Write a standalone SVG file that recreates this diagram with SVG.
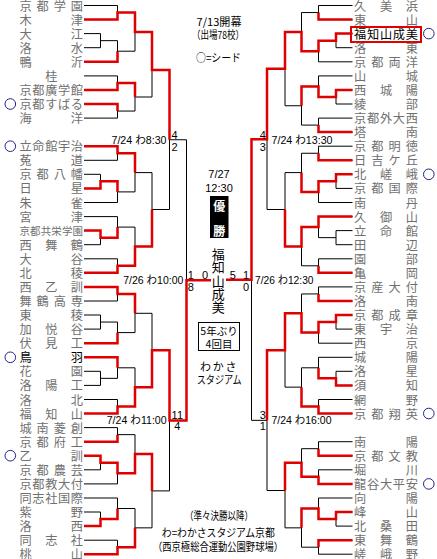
<svg xmlns="http://www.w3.org/2000/svg" width="437" height="559" viewBox="0 0 437 559">
<style>
.n{font-family:"Noto Sans CJK JP","Noto Sans CJK SC",sans-serif;font-size:12.2px;fill:#707070;dominant-baseline:central}
.nb{fill:#000}
.t{font-family:"Liberation Sans","Noto Sans CJK JP",sans-serif;font-size:11px;fill:#000;dominant-baseline:central}
.j{font-family:"Noto Sans CJK JP",sans-serif;font-size:11px;fill:#000;dominant-baseline:central}
.c{text-anchor:middle}
.e{text-anchor:end}
.sd{fill:none;stroke:#22228a;stroke-width:1}
.k{fill:none;stroke:#000;stroke-width:1}
.r{fill:none;stroke:#e00000;stroke-width:2.5}
</style>
<rect width="437" height="559" fill="#fff"/>
<g id="connectors">
<path class="k" d="M84 5.5H117.5V19.6H84 M84 33.6H100.5V47.7H84 M100.5 40.65H117.5V61.8H84 M84 75.9H117.5V89.9H84 M84 104H117.5V118.1H84 M84 146.2H117.5V160.3H84 M84 174.3H100.5V188.4H84 M100.5 181.35H117.5V202.5H84 M84 216.6H117.5V237.65H100.5 M84 230.6H100.5V244.7H84 M84 258.8H117.5V272.8H84 M84 286.9H117.5V301H84 M84 315H100.5V329.1H84 M100.5 322.05H117.5V343.2H84 M84 357.3H117.5V378.35H100.5 M84 371.3H100.5V385.4H84 M84 399.5H117.5V413.5H84 M84 427.6H117.5V441.7H84 M84 455.7H100.5V469.8H84 M100.5 462.75H117.5V483.9H84 M84 498H117.5V519.05H100.5 M84 512H100.5V526.1H84 M84 540.2H117.5V554.2H84"/>
<path class="k" d="M117.5 12.55H135V51.2H117.5 M117.5 82.9H135V111.05H117.5 M117.5 153.25H135V191.9H117.5 M117.5 227.1H135V265.8H117.5 M117.5 293.95H135V332.6H117.5 M117.5 367.8H135V406.5H117.5 M117.5 434.65H135V473.3H117.5 M117.5 508.5H135V547.2H117.5 M135 31.9H152V97H135 M152 70H169.5 M135 172.6H152V246.45H135 M152 209.5H169.5 M135 313.3H152V387.15H135 M152 350.2H169.5 M135 454H152V527.85H135 M152 490.9H169.5 M169.5 70V209.5 M169.5 139.75H186.5 M169.5 350.2V490.9 M169.5 420.55H186.5 M186.5 139.75V420.55 M186.5 280.15H211"/>
<path class="k" d="M352.5 5.5H318.5V19.6H352.5 M352.5 33.6H336V47.7H352.5 M336 40.65H318.5V61.8H352.5 M352.5 75.9H318.5V96.95H336 M352.5 89.9H336V104H352.5 M352.5 118.1H318.5V132.1H352.5 M352.5 146.2H318.5V160.3H352.5 M352.5 174.3H336V188.4H352.5 M336 181.35H318.5V202.5H352.5 M352.5 216.6H318.5V237.65H336 M352.5 230.6H336V244.7H352.5 M352.5 258.8H318.5V272.8H352.5 M352.5 286.9H318.5V301H352.5 M352.5 315H336V329.1H352.5 M336 322.05H318.5V343.2H352.5 M352.5 357.3H318.5V378.35H336 M352.5 371.3H336V385.4H352.5 M352.5 399.5H318.5V413.5H352.5 M352.5 441.7H318.5V455.7H352.5 M352.5 469.8H318.5V483.9H352.5 M352.5 498H318.5V519.05H336 M352.5 512H336V526.1H352.5 M352.5 540.2H318.5V554.2H352.5"/>
<path class="k" d="M318.5 12.55H301.5V51.2H318.5 M318.5 86.4H301.5V125.1H318.5 M318.5 153.25H301.5V191.9H318.5 M318.5 227.1H301.5V265.8H318.5 M318.5 293.95H301.5V332.6H318.5 M318.5 367.8H301.5V406.5H318.5 M318.5 448.7H301.5V476.85H318.5 M318.5 508.5H301.5V547.2H318.5 M301.5 31.9H285V105.75H301.5 M285 68.8H267 M301.5 172.6H285V246.45H301.5 M285 209.5H267 M301.5 313.3H285V387.15H301.5 M285 350.2H267 M301.5 462.8H285V527.85H301.5 M285 490.5H267 M267 68.8V209.5 M267 139.15H251.5 M267 350.2V490.5 M267 420.35H251.5 M251.5 139.15V420.35 M251.5 279.75H226"/>
<path class="r" d="M84 19.6H117.5V12.55H135V31.9H152V70H169.5V139.75"/>
<path class="r" d="M84 61.8H117.5V51.2"/>
<path class="r" d="M84 89.9H117.5V82.9H135V97"/>
<path class="r" d="M84 104H117.5V111.05"/>
<path class="r" d="M84 146.2H117.5V153.25H135V172.6"/>
<path class="r" d="M84 188.4H100.5V181.35H117.5V191.9"/>
<path class="r" d="M84 230.6H100.5V237.65H117.5V227.1"/>
<path class="r" d="M84 272.8H117.5V265.8H135V246.45H152V209.5"/>
<path class="r" d="M84 286.9H117.5V293.95H135V313.3"/>
<path class="r" d="M84 343.2H117.5V332.6"/>
<path class="r" d="M84 357.3H117.5V367.8"/>
<path class="r" d="M84 413.5H117.5V406.5H135V387.15H152V350.2H169.5V420.55H186.5V280.15H211"/>
<path class="r" d="M84 441.7H117.5V434.65"/>
<path class="r" d="M84 455.7H100.5V462.75H117.5V473.3H135V454H152V490.9"/>
<path class="r" d="M84 526.1H100.5V519.05H117.5V508.5"/>
<path class="r" d="M84 554.2H117.5V547.2H135V527.85"/>
<path class="r" d="M352.5 19.6H318.5V12.55"/>
<path class="r" d="M352.5 33.6H336V40.65H318.5V51.2H301.5V31.9H285V68.8H267V139.15H251.5V279.75H226"/>
<path class="r" d="M352.5 89.9H336V96.95H318.5V86.4H301.5V105.75"/>
<path class="r" d="M352.5 132.1H318.5V125.1"/>
<path class="r" d="M352.5 160.3H318.5V153.25"/>
<path class="r" d="M352.5 174.3H336V181.35H318.5V191.9H301.5V172.6"/>
<path class="r" d="M352.5 216.6H318.5V227.1H301.5V246.45H285V209.5"/>
<path class="r" d="M352.5 272.8H318.5V265.8"/>
<path class="r" d="M352.5 301H318.5V293.95"/>
<path class="r" d="M352.5 315H336V322.05H318.5V332.6H301.5V313.3H285V350.2H267V420.35"/>
<path class="r" d="M352.5 385.4H336V378.35H318.5V367.8"/>
<path class="r" d="M352.5 413.5H318.5V406.5H301.5V387.15"/>
<path class="r" d="M352.5 455.7H318.5V448.7"/>
<path class="r" d="M352.5 483.9H318.5V476.85H301.5V462.8H285V490.5"/>
<path class="r" d="M352.5 512H336V519.05H318.5V508.5H301.5V527.85"/>
<path class="r" d="M352.5 540.2H318.5V547.2"/>
</g>
<g id="left-teams">
<g id="l00"><text class="n" x="19.5" y="6" textLength="63.5" lengthAdjust="spacing">京都学園</text></g>
<g id="l01"><text class="n" x="19.5" y="19.6" textLength="63.5" lengthAdjust="spacing">木津</text></g>
<g id="l02"><text class="n" x="19.5" y="33.6" textLength="63.5" lengthAdjust="spacing">大江</text></g>
<g id="l03"><text class="n" x="19.5" y="47.7" textLength="63.5" lengthAdjust="spacing">洛水</text></g>
<g id="l04"><text class="n" x="19.5" y="61.8" textLength="63.5" lengthAdjust="spacing">鴨沂</text></g>
<g id="l05"><text class="n c" x="51.3" y="75.9">桂</text></g>
<g id="l06"><text class="n" x="19.5" y="89.9" textLength="63.5" lengthAdjust="spacing">京都廣学館</text></g>
<g id="l07"><circle class="sd" cx="10.3" cy="104" r="5.3"/><text class="n" x="19.5" y="104" textLength="63.5" lengthAdjust="spacing">京都すばる</text></g>
<g id="l08"><text class="n" x="19.5" y="118.1" textLength="63.5" lengthAdjust="spacing">海洋</text></g>
<g id="l10"><circle class="sd" cx="10.3" cy="146.2" r="5.3"/><text class="n" x="19.5" y="146.2" textLength="63.5" lengthAdjust="spacing">立命館宇治</text></g>
<g id="l11"><text class="n" x="19.5" y="160.3" textLength="63.5" lengthAdjust="spacing">菟道</text></g>
<g id="l12"><text class="n" x="19.5" y="174.3" textLength="63.5" lengthAdjust="spacing">京都八幡</text></g>
<g id="l13"><text class="n" x="19.5" y="188.4" textLength="63.5" lengthAdjust="spacing">日星</text></g>
<g id="l14"><text class="n" x="19.5" y="202.5" textLength="63.5" lengthAdjust="spacing">朱雀</text></g>
<g id="l15"><text class="n" x="19.5" y="216.6" textLength="63.5" lengthAdjust="spacing">宮津</text></g>
<g id="l16"><text class="n" x="19.5" y="230.6" textLength="63.5" lengthAdjust="spacing" style="font-size:10.5px">京都共栄学園</text></g>
<g id="l17"><text class="n" x="19.5" y="244.7" textLength="63.5" lengthAdjust="spacing">西舞鶴</text></g>
<g id="l18"><text class="n" x="19.5" y="258.8" textLength="63.5" lengthAdjust="spacing">大谷</text></g>
<g id="l19"><text class="n" x="19.5" y="272.8" textLength="63.5" lengthAdjust="spacing">北稜</text></g>
<g id="l20"><text class="n" x="19.5" y="286.9" textLength="63.5" lengthAdjust="spacing">西乙訓</text></g>
<g id="l21"><text class="n" x="19.5" y="301" textLength="63.5" lengthAdjust="spacing">舞鶴高専</text></g>
<g id="l22"><text class="n" x="19.5" y="315" textLength="63.5" lengthAdjust="spacing">東稜</text></g>
<g id="l23"><text class="n" x="19.5" y="329.1" textLength="63.5" lengthAdjust="spacing">加悦谷</text></g>
<g id="l24"><text class="n" x="19.5" y="343.2" textLength="63.5" lengthAdjust="spacing">伏見工</text></g>
<g id="l25"><circle class="sd" cx="10.3" cy="357.3" r="5.3"/><text class="n nb" x="19.5" y="357.3" textLength="63.5" lengthAdjust="spacing">鳥羽</text></g>
<g id="l26"><text class="n" x="19.5" y="371.3" textLength="63.5" lengthAdjust="spacing">花園</text></g>
<g id="l27"><text class="n" x="19.5" y="385.4" textLength="63.5" lengthAdjust="spacing">洛陽工</text></g>
<g id="l28"><text class="n" x="19.5" y="399.5" textLength="63.5" lengthAdjust="spacing">洛北</text></g>
<g id="l29"><text class="n" x="19.5" y="413.5" textLength="63.5" lengthAdjust="spacing">福知山</text></g>
<g id="l30"><text class="n" x="19.5" y="427.6" textLength="63.5" lengthAdjust="spacing">城南菱創</text></g>
<g id="l31"><text class="n" x="19.5" y="441.7" textLength="63.5" lengthAdjust="spacing">京都府工</text></g>
<g id="l32"><circle class="sd" cx="10.3" cy="455.7" r="5.3"/><text class="n" x="19.5" y="455.7" textLength="63.5" lengthAdjust="spacing">乙訓</text></g>
<g id="l33"><text class="n" x="19.5" y="469.8" textLength="63.5" lengthAdjust="spacing">京都農芸</text></g>
<g id="l34"><text class="n" x="19.5" y="483.9" textLength="63.5" lengthAdjust="spacing">京都教大付</text></g>
<g id="l35"><text class="n" x="19.5" y="498" textLength="63.5" lengthAdjust="spacing">同志社国際</text></g>
<g id="l36"><text class="n" x="19.5" y="512" textLength="63.5" lengthAdjust="spacing">紫野</text></g>
<g id="l37"><text class="n" x="19.5" y="526.1" textLength="63.5" lengthAdjust="spacing">洛西</text></g>
<g id="l38"><text class="n" x="19.5" y="540.2" textLength="63.5" lengthAdjust="spacing">同志社</text></g>
<g id="l39"><text class="n" x="19.5" y="553.5" textLength="63.5" lengthAdjust="spacing">桃山</text></g>
</g>
<g id="right-teams">
<g id="r00"><text class="n" x="354" y="6" textLength="64" lengthAdjust="spacing">久美浜</text></g>
<g id="r01"><text class="n" x="354" y="19.6" textLength="64" lengthAdjust="spacing">東山</text></g>
<g id="r02"><rect x="351" y="27" width="70" height="15" fill="none" stroke="#e00000" stroke-width="2"/><text class="n nb" x="354" y="33.6" textLength="64" lengthAdjust="spacing">福知山成美</text><circle class="sd" cx="428.8" cy="33.6" r="5.3"/></g>
<g id="r03"><text class="n" x="354" y="47.7" textLength="64" lengthAdjust="spacing">洛東</text></g>
<g id="r04"><text class="n" x="354" y="61.8" textLength="64" lengthAdjust="spacing">京都両洋</text></g>
<g id="r05"><text class="n" x="354" y="75.9" textLength="64" lengthAdjust="spacing">山城</text></g>
<g id="r06"><text class="n" x="354" y="89.9" textLength="64" lengthAdjust="spacing">西城陽</text></g>
<g id="r07"><text class="n" x="354" y="104" textLength="64" lengthAdjust="spacing">綾部</text></g>
<g id="r08"><text class="n" x="354" y="118.1" textLength="64" lengthAdjust="spacing">京都外大西</text></g>
<g id="r09"><text class="n" x="354" y="132.1" textLength="64" lengthAdjust="spacing">塔南</text></g>
<g id="r10"><text class="n" x="354" y="146.2" textLength="64" lengthAdjust="spacing">京都明徳</text></g>
<g id="r11"><text class="n" x="354" y="160.3" textLength="64" lengthAdjust="spacing">日吉ケ丘</text></g>
<g id="r12"><text class="n" x="354" y="174.3" textLength="64" lengthAdjust="spacing">北嵯峨</text><circle class="sd" cx="428.8" cy="174.3" r="5.3"/></g>
<g id="r13"><text class="n" x="354" y="188.4" textLength="64" lengthAdjust="spacing">京都国際</text></g>
<g id="r14"><text class="n" x="354" y="202.5" textLength="64" lengthAdjust="spacing">南丹</text></g>
<g id="r15"><text class="n" x="354" y="216.6" textLength="64" lengthAdjust="spacing">久御山</text></g>
<g id="r16"><text class="n" x="354" y="230.6" textLength="64" lengthAdjust="spacing">立命館</text></g>
<g id="r17"><text class="n" x="354" y="244.7" textLength="64" lengthAdjust="spacing">田辺</text></g>
<g id="r18"><text class="n" x="354" y="258.8" textLength="64" lengthAdjust="spacing">園部</text></g>
<g id="r19"><text class="n" x="354" y="272.8" textLength="64" lengthAdjust="spacing">亀岡</text></g>
<g id="r20"><text class="n" x="354" y="286.9" textLength="64" lengthAdjust="spacing">京産大付</text></g>
<g id="r21"><text class="n" x="354" y="301" textLength="64" lengthAdjust="spacing">洛南</text></g>
<g id="r22"><text class="n" x="354" y="315" textLength="64" lengthAdjust="spacing">京都成章</text></g>
<g id="r23"><text class="n" x="354" y="329.1" textLength="64" lengthAdjust="spacing">東宇治</text></g>
<g id="r24"><text class="n" x="354" y="343.2" textLength="64" lengthAdjust="spacing">西京</text></g>
<g id="r25"><text class="n" x="354" y="357.3" textLength="64" lengthAdjust="spacing">城陽</text></g>
<g id="r26"><text class="n" x="354" y="371.3" textLength="64" lengthAdjust="spacing">洛星</text></g>
<g id="r27"><text class="n" x="354" y="385.4" textLength="64" lengthAdjust="spacing">須知</text></g>
<g id="r28"><text class="n" x="354" y="399.5" textLength="64" lengthAdjust="spacing">網野</text></g>
<g id="r29"><text class="n" x="354" y="413.5" textLength="64" lengthAdjust="spacing">京都翔英</text><circle class="sd" cx="428.8" cy="413.5" r="5.3"/></g>
<g id="r31"><text class="n" x="354" y="441.7" textLength="64" lengthAdjust="spacing">南陽</text></g>
<g id="r32"><text class="n" x="354" y="455.7" textLength="64" lengthAdjust="spacing">京都文教</text></g>
<g id="r33"><text class="n" x="354" y="469.8" textLength="64" lengthAdjust="spacing">堀川</text></g>
<g id="r34"><text class="n" x="354" y="483.9" textLength="64" lengthAdjust="spacing">龍谷大平安</text><circle class="sd" cx="428.8" cy="483.9" r="5.3"/></g>
<g id="r35"><text class="n" x="354" y="498" textLength="64" lengthAdjust="spacing">向陽</text></g>
<g id="r36"><text class="n" x="354" y="512" textLength="64" lengthAdjust="spacing">峰山</text></g>
<g id="r37"><text class="n" x="354" y="526.1" textLength="64" lengthAdjust="spacing">北桑田</text></g>
<g id="r38"><text class="n" x="354" y="540.2" textLength="64" lengthAdjust="spacing">東舞鶴</text></g>
<g id="r39"><text class="n" x="354" y="553.5" textLength="64" lengthAdjust="spacing">嵯峨野</text></g>
</g>
<g id="labels">
<text class="j c" x="219" y="20.7" textLength="45" lengthAdjust="spacingAndGlyphs">7/13開幕</text>
<text class="j c" x="218" y="33.5" textLength="52" lengthAdjust="spacingAndGlyphs">（出場78校）</text>
<text class="j c" x="218.5" y="56.7" textLength="45" lengthAdjust="spacingAndGlyphs">○=シード</text>
<text class="t e" x="166.5" y="140" textLength="55" lengthAdjust="spacingAndGlyphs">7/24 わ8:30</text>
<text class="t" x="271.5" y="140" textLength="61" lengthAdjust="spacingAndGlyphs">7/24 わ13:30</text>
<text class="t e" x="183.3" y="280" textLength="60" lengthAdjust="spacingAndGlyphs">7/26 わ10:00</text>
<text class="t" x="255" y="280" textLength="58.5" lengthAdjust="spacingAndGlyphs">7/26 わ12:30</text>
<text class="t e" x="166.7" y="420" textLength="60" lengthAdjust="spacingAndGlyphs">7/24 わ11:00</text>
<text class="t" x="271.5" y="420" textLength="60" lengthAdjust="spacingAndGlyphs">7/24 わ16:00</text>
<text class="t c" x="174.5" y="134.5">4</text>
<text class="t c" x="174.5" y="146.5">2</text>
<text class="t c" x="262.7" y="134.5">4</text>
<text class="t c" x="262.7" y="146.5">3</text>
<text class="t c" x="177.3" y="414.8">11</text>
<text class="t c" x="177.3" y="426.3">4</text>
<text class="t c" x="262.7" y="414.8">3</text>
<text class="t c" x="262.7" y="426.3">1</text>
<text class="t c" x="190.7" y="274.5">1</text>
<text class="t c" x="205" y="274.5">0</text>
<text class="t c" x="190.7" y="286.5">8</text>
<text class="t c" x="232.7" y="274.5">5</text>
<text class="t c" x="246" y="274.5">1</text>
<text class="t c" x="246" y="286.5">0</text>
<text class="t c" x="219" y="174">7/27</text>
<text class="t c" x="219" y="188">12:30</text>
<rect x="210" y="196" width="18.5" height="42" fill="#000"/>
<text class="j c" x="219.2" y="205.5" style="fill:#fff;font-weight:bold;font-size:12px">優</text>
<text class="j c" x="219.2" y="230" style="fill:#fff;font-weight:bold;font-size:12px">勝</text>
<text class="j c" x="218.3" y="253.5" style="font-size:13px">福</text>
<text class="j c" x="218.3" y="266.8" style="font-size:13px">知</text>
<text class="j c" x="218.3" y="280.1" style="font-size:13px">山</text>
<text class="j c" x="218.3" y="293.4" style="font-size:13px">成</text>
<text class="j c" x="218.3" y="306.7" style="font-size:13px">美</text>
<rect x="198.5" y="322.5" width="41" height="28" fill="none" stroke="#000" stroke-width="1"/>
<text class="j c" x="219" y="330.5" style="font-size:10.5px">5年ぶり</text>
<text class="j c" x="219" y="343" style="font-size:10.5px">4回目</text>
<text class="j c" x="218.3" y="366" textLength="36.5" lengthAdjust="spacing">わかさ</text>
<text class="j c" x="219.2" y="379" textLength="45" lengthAdjust="spacingAndGlyphs">スタジアム</text>
<text class="j c" x="219" y="515" textLength="68" lengthAdjust="spacingAndGlyphs">（準々決勝以降）</text>
<text class="j c" x="218.3" y="531.7" textLength="113" lengthAdjust="spacingAndGlyphs">わ=わかさスタジアム京都</text>
<text class="j c" x="218" y="545.7" textLength="130" lengthAdjust="spacingAndGlyphs">（西京極総合運動公園野球場）</text>
</g>
</svg>
